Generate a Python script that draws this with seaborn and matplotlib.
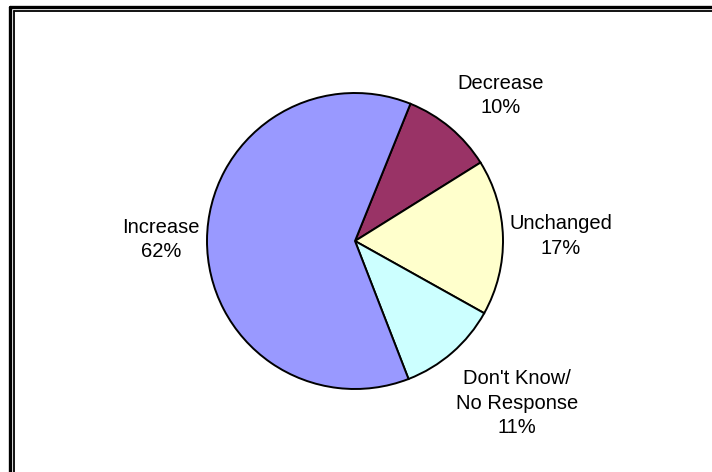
import numpy as np
import seaborn as sns
import matplotlib.pyplot as plt
from matplotlib.lines import Line2D

# survey answers, clockwise from the top
labels = ["Decrease", "Unchanged", "Don't Know/\nNo Response", "Increase"]
shares = [10, 17, 11, 62]
colors = ["#993366", "#FFFFCC", "#CCFFFF", "#9999FF"]
# label placement: distance from centre (radii), angle nudge (deg)
label_dist = [1.39, 1.39, 1.55, 1.31]
label_turn = [-5, 0, 4, 0]

sns.set_style("white")
plt.rcParams['font.family'] = ['Liberation Sans', 'DejaVu Sans']

fig = plt.figure(figsize=(7.12, 4.72), dpi=100)
W, H = 712, 472
cx, cy, r = 355, 241, 148
ax = fig.add_axes([(cx - r) / W, (H - cy - r) / H, 2 * r / W, 2 * r / H])

wedges, _ = ax.pie(
    shares, colors=colors, startangle=68, counterclock=False,
    wedgeprops=dict(edgecolor="black", linewidth=1.4),
)
ax.set_xlim(-1, 1)
ax.set_ylim(-1, 1)
ax.set_aspect("equal")
ax.axis("off")

for w, lab, v, d, t in zip(wedges, labels, shares, label_dist, label_turn):
    ang = np.deg2rad((w.theta1 + w.theta2) / 2 + t)
    ax.text(d * np.cos(ang), d * np.sin(ang), f"{lab}\n{v}%",
            ha="center", va="center", fontsize=14.5, linespacing=1.35,
            color="black")

# double frame (outer thick, inner thin) along top and left like the original
def fx(px):
    return px / W

def fy(py):
    return 1 - py / H

fig.add_artist(Line2D([fx(9.5), fx(9.5)], [fy(7), 0], color="black", lw=2.4))
fig.add_artist(Line2D([fx(9.5), 1], [fy(7), fy(7)], color="black", lw=2.4))
fig.add_artist(Line2D([fx(13.5), fx(13.5)], [fy(11), 0], color="black", lw=1.3))
fig.add_artist(Line2D([fx(13.5), 1], [fy(11), fy(11)], color="black", lw=1.3))

plt.savefig("out.png", dpi=100)
